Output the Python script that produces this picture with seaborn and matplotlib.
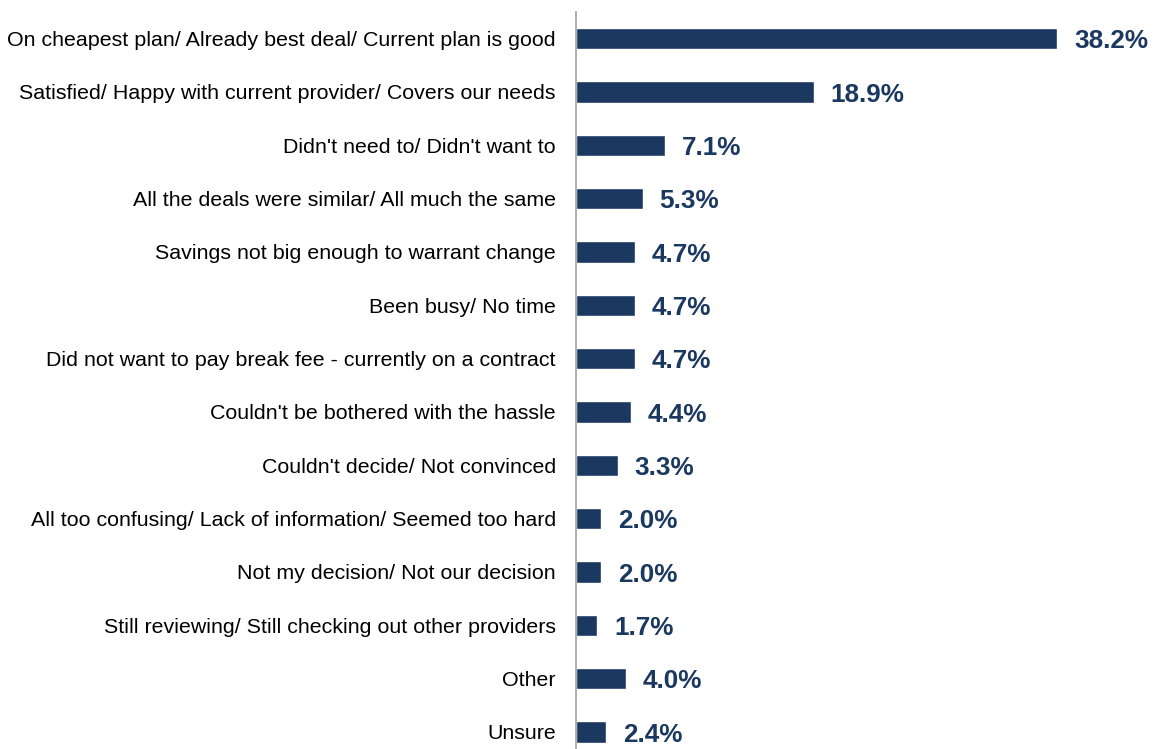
import matplotlib
matplotlib.use("Agg")
import matplotlib.pyplot as plt
import seaborn as sns
import pandas as pd

reasons = [
    "On cheapest plan/ Already best deal/ Current plan is good",
    "Satisfied/ Happy with current provider/ Covers our needs",
    "Didn't need to/ Didn't want to",
    "All the deals were similar/ All much the same",
    "Savings not big enough to warrant change",
    "Been busy/ No time",
    "Did not want to pay break fee - currently on a contract",
    "Couldn't be bothered with the hassle",
    "Couldn't decide/ Not convinced",
    "All too confusing/ Lack of information/ Seemed too hard",
    "Not my decision/ Not our decision",
    "Still reviewing/ Still checking out other providers",
    "Other",
    "Unsure",
]
shares = [38.2, 18.9, 7.1, 5.3, 4.7, 4.7, 4.7, 4.4, 3.3, 2.0, 2.0, 1.7, 4.0, 2.4]

navy = "#1B3860"

sns.set_theme(style="white")
plt.rcParams["font.family"] = ["Liberation Sans", "DejaVu Sans"]

df = pd.DataFrame({"reason": reasons, "share": shares})

fig = plt.figure(figsize=(11.57, 7.49), dpi=100)
W, H = 1157, 749
left = 576 / W
top_px, bot_px = 12.0, 758.5
ax = fig.add_axes([left, (H - bot_px) / H, 1 - left, (bot_px - top_px) / H])

sns.barplot(data=df, x="share", y="reason", orient="h", color=navy,
            width=0.40, saturation=1, ax=ax)

ax.set_xlim(0, (W - 576) / 12.6)
ax.set_ylim(len(reasons) - 0.5, -0.5)
ax.set_xlabel("")
ax.set_ylabel("")
ax.set_xticks([])
ax.tick_params(axis="y", length=0, pad=14.5, labelsize=15.4, labelcolor="#000000")

for side in ["top", "right", "bottom"]:
    ax.spines[side].set_visible(False)
ax.spines["left"].set_color("#A6A6A6")
ax.spines["left"].set_linewidth(1.3)

for i, v in enumerate(shares):
    ax.annotate(f"{v:.1f}%", xy=(v, i), xytext=(12, -2), textcoords="offset points",
                va="center", ha="left", fontsize=18.8, fontweight="bold", color=navy)

fig.savefig("out.png", dpi=100)
